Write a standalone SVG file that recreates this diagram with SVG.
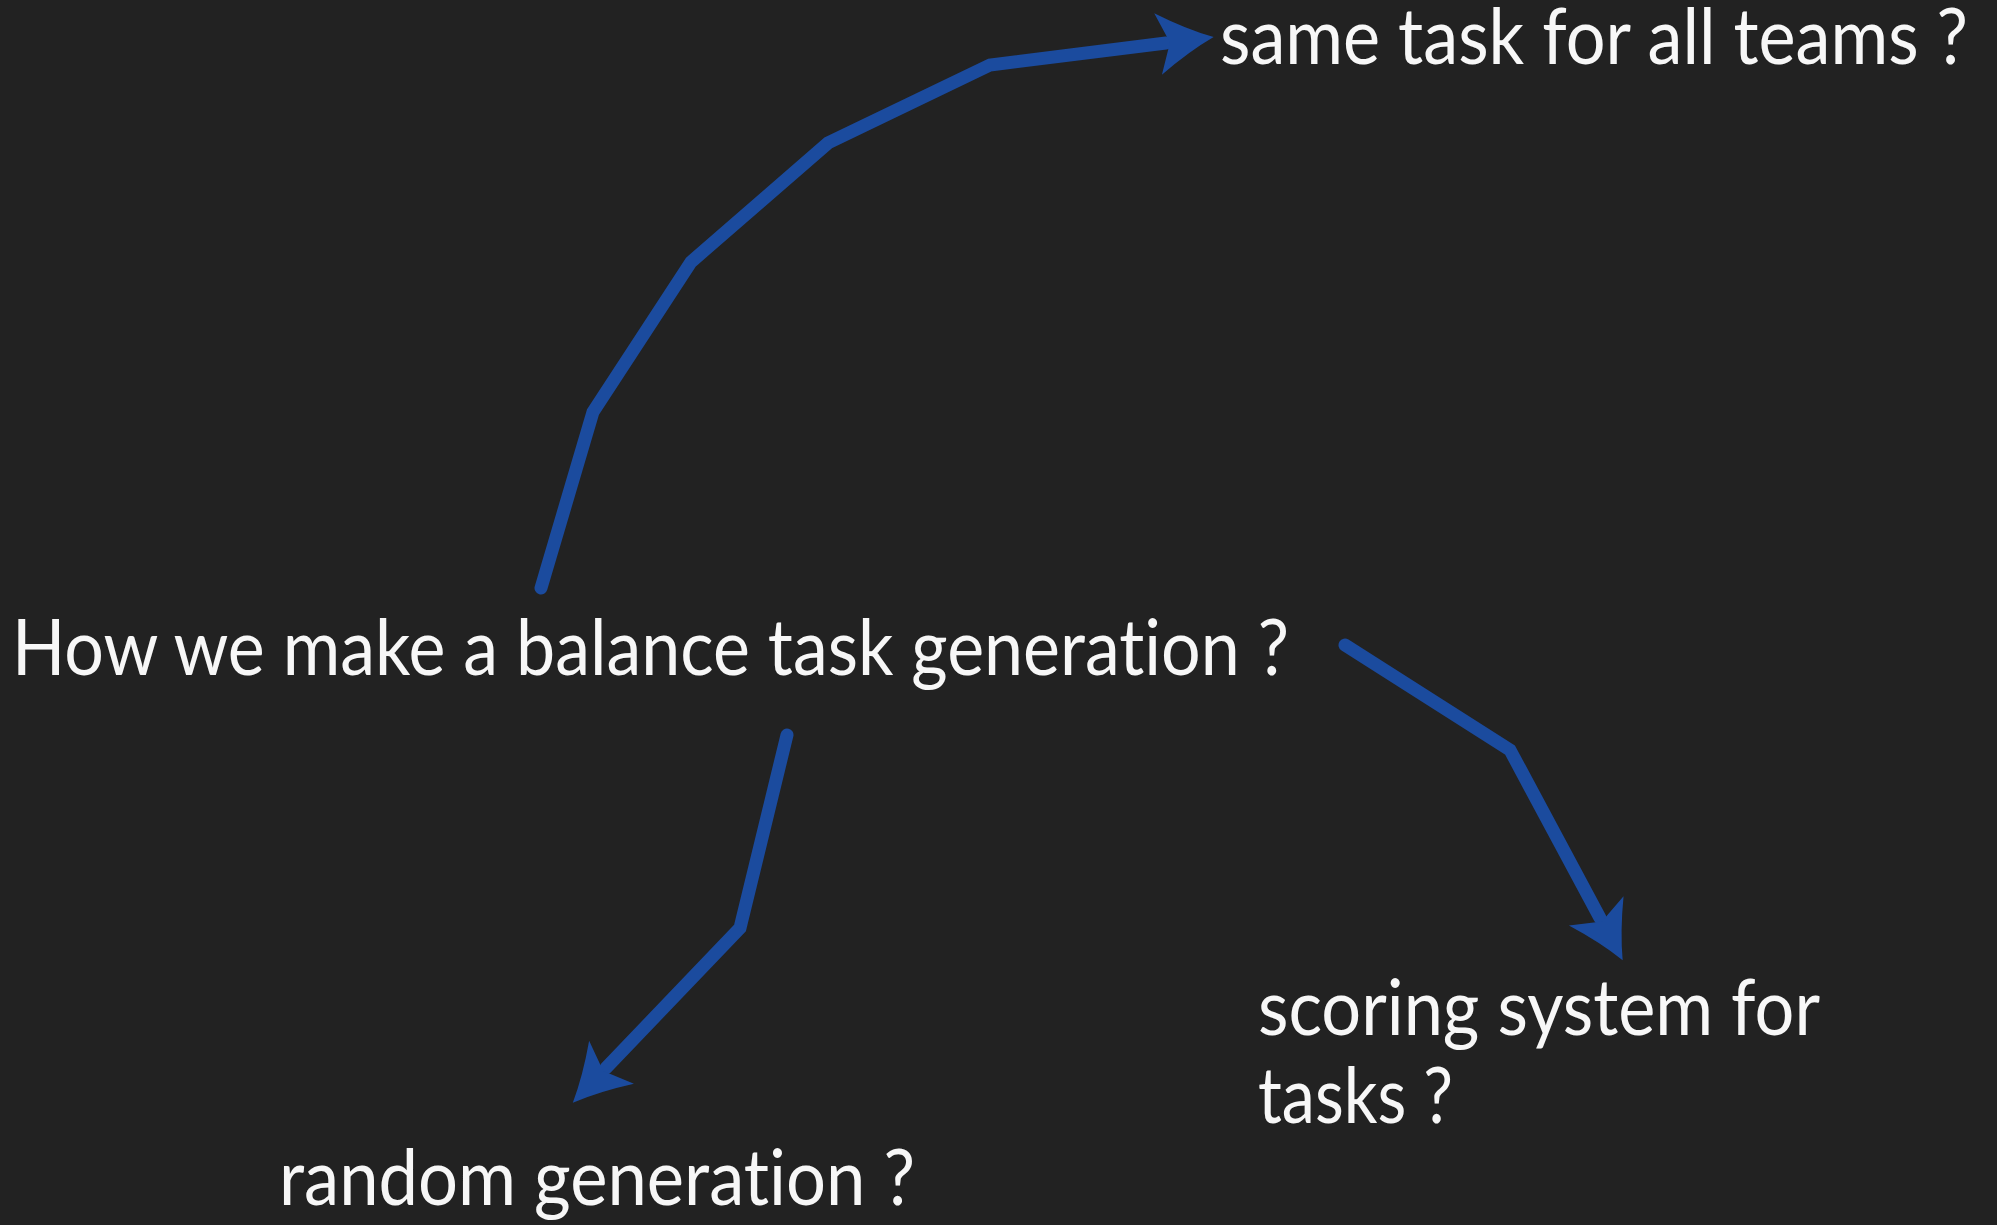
<svg xmlns="http://www.w3.org/2000/svg" width="1997" height="1225" viewBox="0 0 1997 1225">
<style>
.bg{fill:#222222}
.t{font-family:Lato,"Open Sans","Liberation Sans",sans-serif;font-size:78px;fill:#f7f7f7;font-variant-ligatures:none;font-feature-settings:"liga" 0}
.c{fill:none;stroke:#1b4b9e;stroke-width:13;stroke-linecap:round;stroke-linejoin:miter}
</style>
<defs>
<marker id="ah" markerUnits="userSpaceOnUse" viewBox="-12 -34 66 68" refX="0" refY="0" markerWidth="66" markerHeight="68" orient="auto" overflow="visible">
<path d="M48,0 Q22,-11 -8,-31 L4,0 L-8,31 Q22,11 48,0 Z" fill="#1b4b9e"/>
</marker>
</defs>
<rect class="bg" x="0" y="0" width="1997" height="1225"/>
<g id="node-main"><text class="t" x="12" y="675" textLength="1277" lengthAdjust="spacingAndGlyphs">How we make a balance task generation ?</text></g>
<g id="node-same"><text class="t" x="1220" y="64" textLength="748" lengthAdjust="spacingAndGlyphs">same task for all teams ?</text></g>
<g id="node-random"><text class="t" x="279" y="1205" textLength="636" lengthAdjust="spacingAndGlyphs">random generation ?</text></g>
<g id="node-scoring"><text class="t" x="1258" y="1035" textLength="562" lengthAdjust="spacingAndGlyphs">scoring system for</text><text class="t" x="1258" y="1123" textLength="195" lengthAdjust="spacingAndGlyphs">tasks ?</text></g>
<g id="connectors">
<path class="c" marker-end="url(#ah)" d="M541,588 L593,412 L691,262 L828,143 L990,65 L1166,43"/>
<path class="c" marker-end="url(#ah)" d="M1345,645 L1510,750 L1600,918"/>
<path class="c" marker-end="url(#ah)" d="M787,735 L740,928 L606,1068"/>
</g>
</svg>
